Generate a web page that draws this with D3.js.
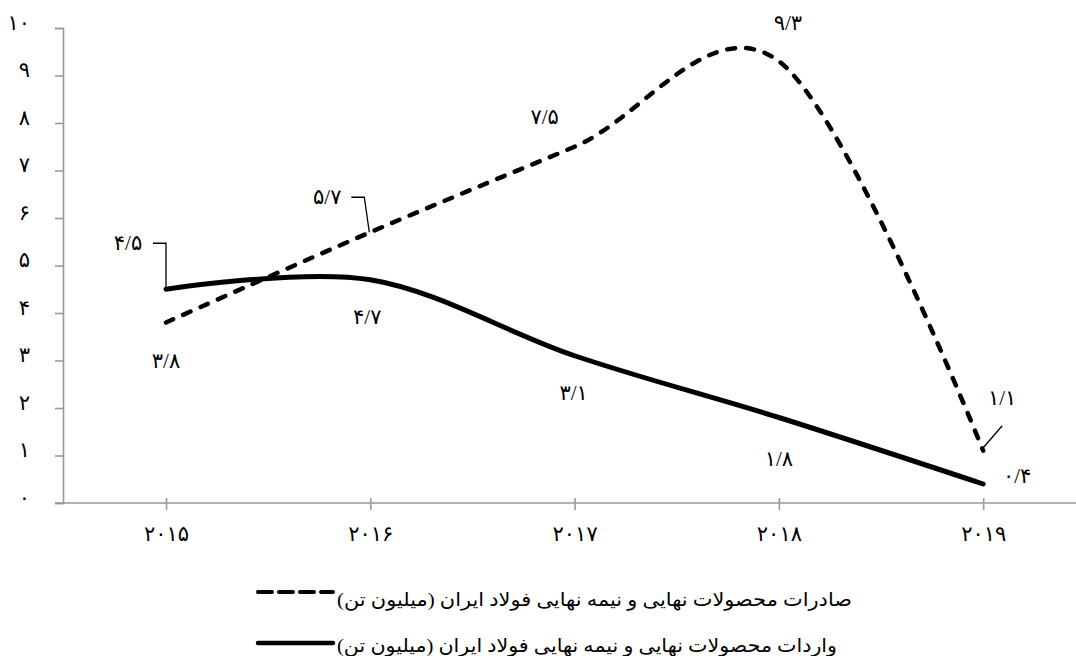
<!DOCTYPE html>
<html>
<head>
<meta charset="utf-8">
<script src="https://cdnjs.cloudflare.com/ajax/libs/d3/7.8.5/d3.min.js"></script>
<style>
  html, body { margin: 0; padding: 0; background: #fff; }
  svg { display: block; }
  text { font-family: "Liberation Serif", "DejaVu Sans", serif; fill: #000; }
</style>
</head>
<body>
<svg id="chart" width="1076" height="656"></svg>
<script>
// ---- data ----
const years = [2015, 2016, 2017, 2018, 2019];
const yearLabels = ["۲۰۱۵", "۲۰۱۶", "۲۰۱۷", "۲۰۱۸", "۲۰۱۹"];
const exportsVals = [3.8, 5.7, 7.5, 9.3, 1.1];
const importsVals = [4.5, 4.7, 3.1, 1.8, 0.4];
const exportsLabels = ["۳/۸", "۵/۷", "۷/۵", "۹/۳", "۱/۱"];
const importsLabels = ["۴/۵", "۴/۷", "۳/۱", "۱/۸", "۰/۴"];
const yTicks = [0, 1, 2, 3, 4, 5, 6, 7, 8, 9, 10];
const yTickLabels = ["۰", "۱", "۲", "۳", "۴", "۵", "۶", "۷", "۸", "۹", "۱۰"];
const legendNames = [
  "صادرات محصولات نهایی و نیمه نهایی فولاد  ایران (میلیون تن)",
  "واردات محصولات نهایی و نیمه نهایی فولاد  ایران (میلیون تن)"
];

// ---- layout ----
const svg = d3.select("#chart");
const x = d3.scalePoint().domain(years).range([166, 983.2]);
const y = d3.scaleLinear().domain([0, 10]).range([503, 28]);
const axisColor = "#999";
const numFont = 21;

// y axis
const yAxis = svg.append("g").attr("transform", "translate(63,0)")
  .call(d3.axisLeft(y).tickValues(yTicks).tickSize(8).tickFormat((d, i) => yTickLabels[i]));
yAxis.select(".domain").attr("stroke", axisColor).attr("stroke-width", 1.6);
yAxis.selectAll(".tick line").attr("stroke", axisColor).attr("stroke-width", 1.6);
yAxis.selectAll(".tick text")
  .attr("x", -33).attr("dy", "0.05em").attr("font-weight", "normal")
  .attr("font-size", numFont).style("font-family", "'Liberation Serif','DejaVu Sans',serif");

// x axis
const xAxisG = svg.append("g").attr("transform", "translate(0,503)");
xAxisG.append("line").attr("x1", 55).attr("x2", 1076).attr("y1", 0).attr("y2", 0)
  .attr("stroke", axisColor).attr("stroke-width", 1.6);
const xAxis = xAxisG.append("g")
  .call(d3.axisBottom(x).tickSize(7).tickFormat((d, i) => yearLabels[i]));
xAxis.select(".domain").remove();
xAxis.selectAll(".tick line").attr("y1", -5).attr("y2", 7)
  .attr("stroke", axisColor).attr("stroke-width", 1.6);
xAxis.selectAll(".tick text").attr("y", 31).attr("dy", "0.35em")
  .attr("letter-spacing", 3)
  .attr("font-size", numFont).style("font-family", "'Liberation Serif','DejaVu Sans',serif");

// lines
const line = d3.line().x((d, i) => x(years[i])).y(d => y(d)).curve(d3.curveCardinal.tension(0));
svg.append("path").datum(exportsVals).attr("d", line)
  .attr("fill", "none").attr("stroke", "#000").attr("stroke-width", 4.5)
  .attr("stroke-dasharray", "8,11").attr("stroke-linecap", "round");
svg.append("path").datum(importsVals).attr("d", line)
  .attr("fill", "none").attr("stroke", "#000").attr("stroke-width", 5)
  .attr("stroke-linecap", "round");

// data labels (offsets relative to point)
const expOff = [[0, 38], [-43, -35], [-30, -30], [9, -38], [19, -53]];
const impOff = [[-38, -46], [-3, 37], [-1, 37], [0, 41], [34, -8]];
function addLabels(vals, labels, offs) {
  svg.append("g").selectAll("text").data(vals).join("text")
    .attr("x", (d, i) => x(years[i]) + offs[i][0])
    .attr("y", (d, i) => y(d) + offs[i][1])
    .attr("text-anchor", "middle").attr("dominant-baseline", "central")
    .attr("font-size", numFont).attr("letter-spacing", 1)
    .text((d, i) => labels[i]);
}
addLabels(exportsVals, exportsLabels, expOff);
addLabels(importsVals, importsLabels, impOff);

// leader lines
const leader = (pts) => svg.append("path").attr("d", d3.line()(pts))
  .attr("fill", "none").attr("stroke", "#000").attr("stroke-width", 1.3);
{
  const px = x(years[0]), py = y(importsVals[0]);
  leader([[px, py], [px, py - 46], [px - 13, py - 46]]);
}
{
  const px = x(years[1]), py = y(exportsVals[1]);
  leader([[px - 1, py], [px - 6, py - 35], [px - 19, py - 35]]);
}
{
  const px = x(years[4]), py = y(exportsVals[4]);
  leader([[px, py - 3], [px + 19, py - 25]]);
}

// legend
const legendTextY = [599, 645];
const legendLineY = [592, 643];
const legendWidths = [515, 500];
const dashes = ["14,7", null];
const sw = [4, 4.5];
legendNames.forEach((name, i) => {
  const g = svg.append("g");
  const t = g.append("text").attr("x", 0).attr("y", legendTextY[i])
    .attr("dominant-baseline", "central")
    .attr("font-size", 19).attr("direction", "rtl").attr("text-anchor", "middle")
    .attr("textLength", legendWidths[i]).attr("lengthAdjust", "spacingAndGlyphs")
    .text(name);
  const bb = t.node().getBBox();
  t.attr("x", 337 - bb.x);
  const l = g.append("line").attr("x1", 258).attr("x2", 333)
    .attr("y1", legendLineY[i]).attr("y2", legendLineY[i])
    .attr("stroke", "#000").attr("stroke-width", sw[i]);
  if (dashes[i]) l.attr("stroke-dasharray", dashes[i]).attr("stroke-linecap", "round");
  else l.attr("stroke-linecap", "round");
});
</script>
</body>
</html>
